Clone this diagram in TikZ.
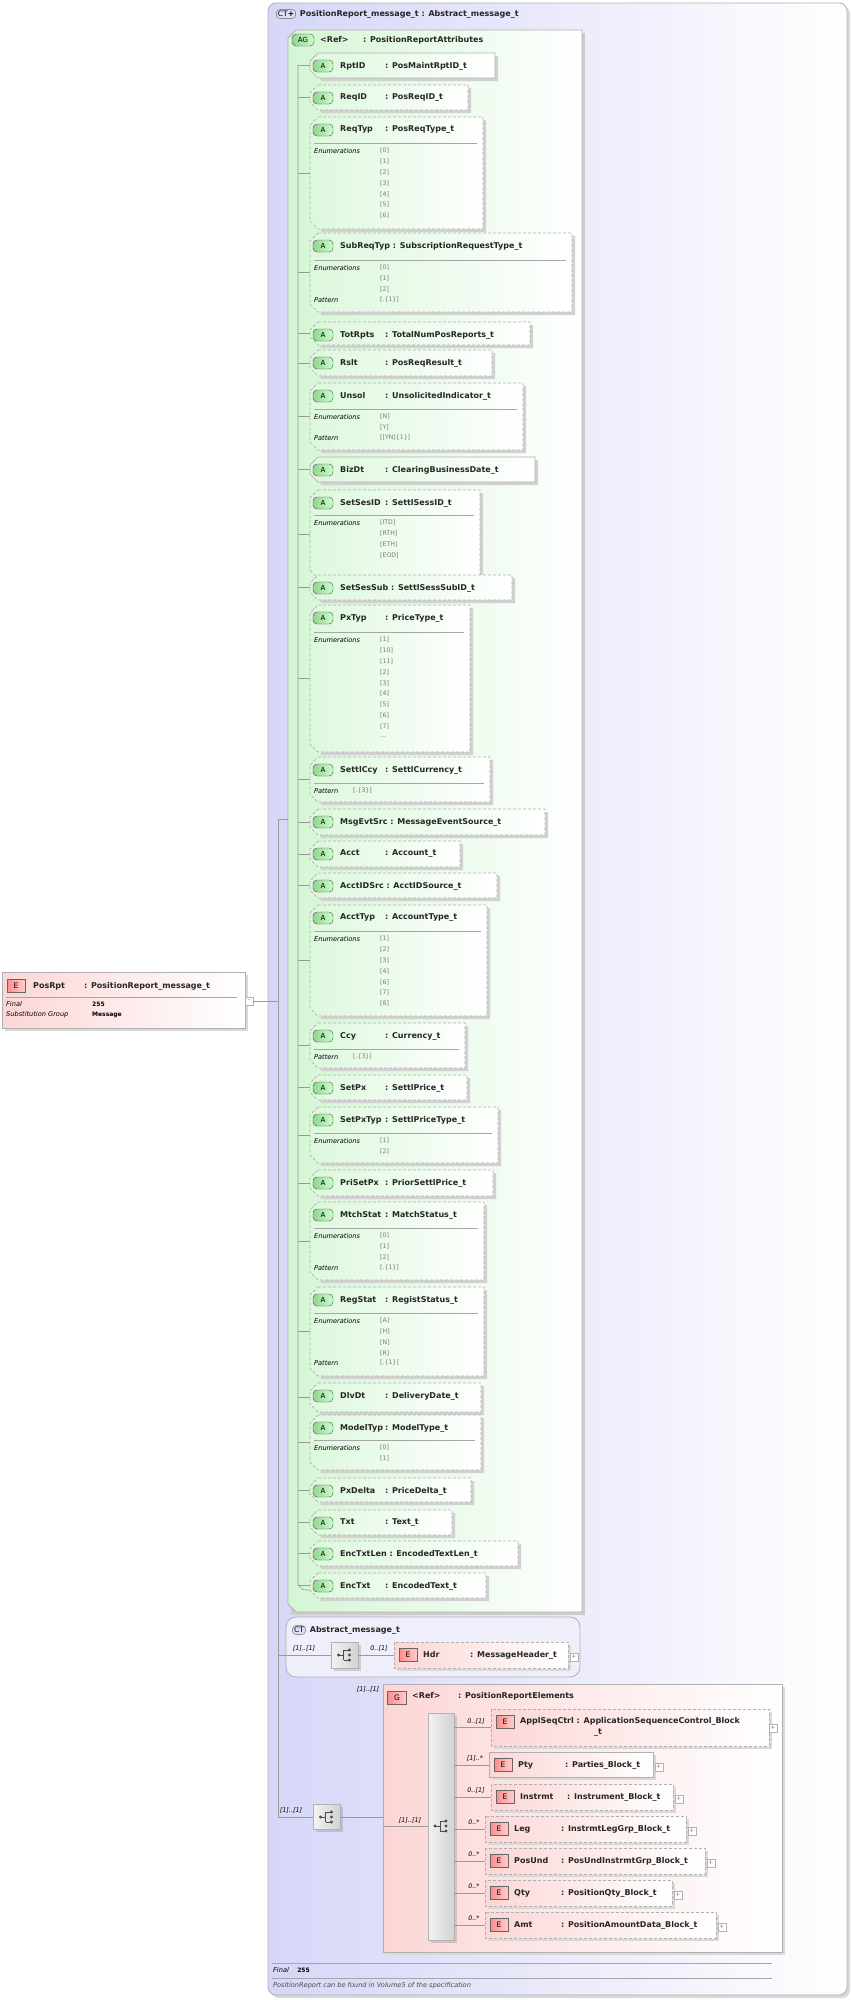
\documentclass[tikz,border=0pt]{standalone}
\usepackage{fontspec}
\setmainfont{DejaVu Sans}
\usetikzlibrary{positioning,shadows}
\definecolor{ctblue}{RGB}{214,214,248}
\definecolor{aggreen}{RGB}{212,246,212}
\definecolor{epink}{RGB}{252,214,214}
\definecolor{bordgray}{RGB}{176,176,176}
\definecolor{valgray}{RGB}{120,120,120}
\tikzset{
  tree/.style={draw=gray!80, line width=0.6pt},
  attrbox/.style={draw=bordgray, line width=0.7pt, left color=aggreen!80, right color=white},
  opt/.style={dashed, dash pattern=on 3pt off 2pt},
  req/.style={solid},
  abadge/.style={draw=black!70, rounded corners=4pt, left color=green!45!gray!60, right color=green!20,
    minimum width=20pt, minimum height=12pt, inner sep=0pt, font=\fontsize{7}{7}\selectfont},
  ebadge/.style={draw=black!60, left color=red!45, right color=red!20,
    minimum width=18pt, minimum height=13pt, inner sep=0pt, font=\fontsize{7.5}{7.5}\selectfont},
  atext/.style={anchor=west, inner sep=0pt, font=\fontsize{8}{9}\selectfont\bfseries, text=black!85},
  dlabel/.style={anchor=west, inner sep=0pt, font=\fontsize{6.6}{7}\selectfont\itshape},
  dval/.style={anchor=west, inner sep=0pt, font=\fontsize{6.2}{7}\selectfont, text=valgray},
  mult/.style={inner sep=0pt, font=\fontsize{6.4}{7}\selectfont\itshape},
  sepl/.style={draw=gray!70, line width=0.5pt},
  plusbox/.style={draw=gray!60, fill=white, minimum size=8pt, inner sep=0pt, font=\fontsize{6}{6}\selectfont, text=gray},
  seqbox/.style={draw=gray!60, left color=gray!10, right color=gray!35, drop shadow={opacity=0.3}},
}
% fixed name column
\newcommand\nm[1]{\setbox0\hbox{#1}\ifdim\wd0<43pt \hbox to 45pt{\box0\hfil}\else\box0\ \fi}
% attribute: top, bottom, right, name, type, style, key
\newcommand\attr[7]{%
  \fill[black!18] (313,{#1+3}) -- (#3+3,{#1+3}) -- (#3+3,{#2+3}) -- (321,{#2+3}) -- cycle;
  \draw[attrbox,#6] (318,#1) -- (#3,#1) -- (#3,#2) -- (318,#2) -- (310,{#2-8}) -- (310,{#1+8}) -- cycle;
  \node[abadge] (#7-b) at (323,{#1+13}) {A};
  \node[atext] (#7) at (340,{#1+13}) {\nm{#4}: #5};
  \coordinate (#7-t) at (298,{(#1+#2)/2});
  \draw[tree] (#7-t) -- (310,{(#1+#2)/2});
}
% enumerations: separator y, right, values
\newcommand\enums[3]{%
  \draw[sepl] (314,#1) -- ({#2-6},#1);
  \node[dlabel] at (314,{#1+8}) {Enumerations};
  \foreach \v [count=\i from 0] in {#3} \node[dval] at (380,{#1+8+10.8*\i}) {[\v]};
}
\newcommand\pat[3]{\node[dlabel] at (314,#1) {Pattern}; \node[dval] at (#2,#1) {#3};}
% element box: left, top, right, bottom, style, name, type, key
\newcommand\elem[8]{%
  \fill[black!15] ({#1+3},{#2+3}) rectangle ({#3+3},{#4+3});
  \draw[draw=bordgray, line width=0.7pt, left color=epink, right color=white, #5] (#1,#2) rectangle (#3,#4);
  \node[ebadge] (#8-b) at ({#1+14},{#2+13}) {E};
  \node[atext] (#8) at ({#1+29},{#2+13}) {\hbox to 47pt{#6\hfil}: #7};
  \node[plusbox] (#8-p) at ({#3+6},{#2+15}) {+};
}
\newcommand\seqicon[2]{%
  \fill[black!70] ({#1-6},#2) circle (1.6pt);
  \draw[black!70, line width=0.8pt] ({#1-6},#2) -- ({#1-1},#2) ({#1-1},{#2-5}) -- ({#1-1},{#2+5})
    ({#1-1},{#2-5}) -- ({#1+4},{#2-5}) ({#1-1},{#2+5}) -- ({#1+4},{#2+5});
  \foreach \d in {-5,0,5} \fill[black!70] ({#1+5},{#2+\d}) circle (1.6pt);
}

\begin{document}
\begin{tikzpicture}[x=1pt,y=-1pt]
\useasboundingbox (0,0) rectangle (851,2000);
%outer complex type
\fill[black!15] (271,6) [rounded corners=8pt] rectangle (850,1998);
\draw[draw=bordgray, line width=0.8pt, left color=ctblue, right color=white, rounded corners=8pt] (268,3) rectangle (847,1995);
\node[draw=black!60, rounded corners=3pt, fill=ctblue!80, inner sep=1.5pt, font=\fontsize{7.5}{8}\selectfont] (ctp) at (286,14) {CT\textbf{+}};
\node[atext, right=4pt of ctp] (cttitle) {PositionReport\_message\_t : Abstract\_message\_t};
%attribute group
\fill[black!20] (291,33) rectangle (585,1615);
\draw[draw=bordgray, line width=0.8pt, left color=aggreen, right color=white] (296,30) -- (582,30) -- (582,1612) -- (296,1612) -- (288,1604) -- (288,38) -- cycle;
\node[abadge, minimum width=22pt] (agb) at (303,40) {AG};
\node[atext] (agtitle) at (320,40) {\hbox to 43pt{<Ref>\hfil}: PositionReportAttributes};
\draw[tree] (298,65) -- (298,1582) to[out=-90,in=180] (306,1590) -- (310,1590);
%attributes
\attr{53}{78}{495}{RptID}{PosMaintRptID\_t}{req}{rptid}
\attr{85}{110}{468}{ReqID}{PosReqID\_t}{opt}{reqid}
\attr{117}{229}{483}{ReqTyp}{PosReqType\_t}{opt}{reqtyp}
\enums{143}{483}{0,1,2,3,4,5,6}
\attr{233}{312}{572}{SubReqTyp}{SubscriptionRequestType\_t}{opt}{subreqtyp}
\enums{260}{572}{0,1,2}
\pat{300}{380}{[.\{1\}]}
\attr{322}{345}{530}{TotRpts}{TotalNumPosReports\_t}{opt}{totrpts}
\attr{350}{376}{492}{Rslt}{PosReqResult\_t}{opt}{rslt}
\attr{383}{450}{523}{Unsol}{UnsolicitedIndicator\_t}{opt}{unsol}
\enums{409}{523}{N,Y}
\pat{438}{380}{[[YN]\{1\}]}
\attr{457}{482}{535}{BizDt}{ClearingBusinessDate\_t}{req}{bizdt}
\attr{490}{578}{480}{SetSesID}{SettlSessID\_t}{opt}{setsesid}
\enums{515}{480}{ITD,RTH,ETH,EOD}
\attr{575}{600}{512}{SetSesSub}{SettlSessSubID\_t}{opt}{setsessub}
\attr{605}{752}{470}{PxTyp}{PriceType\_t}{opt}{pxtyp}
\enums{632}{470}{1,10,11,2,3,4,5,6,7}
\node[dval] (pxmore) at (380,737) {...};
\attr{757}{802}{490}{SettlCcy}{SettlCurrency\_t}{opt}{settlccy}
\draw[sepl] (314,783) -- (484,783);
\pat{791}{353}{[.\{3\}]}
\attr{809}{835}{545}{MsgEvtSrc}{MessageEventSource\_t}{opt}{msgevtsrc}
\attr{841}{867}{460}{Acct}{Account\_t}{opt}{acct}
\attr{873}{898}{497}{AcctIDSrc}{AcctIDSource\_t}{opt}{acctidsrc}
\attr{905}{1016}{487}{AcctTyp}{AccountType\_t}{opt}{accttyp}
\enums{931}{487}{1,2,3,4,6,7,8}
\attr{1023}{1068}{465}{Ccy}{Currency\_t}{opt}{ccy}
\draw[sepl] (314,1049) -- (459,1049);
\pat{1057}{353}{[.\{3\}]}
\attr{1075}{1100}{467}{SetPx}{SettlPrice\_t}{opt}{setpx}
\attr{1107}{1163}{498}{SetPxTyp}{SettlPriceType\_t}{opt}{setpxtyp}
\enums{1133}{498}{1,2}
\attr{1170}{1196}{493}{PriSetPx}{PriorSettlPrice\_t}{opt}{prisetpx}
\attr{1202}{1280}{484}{MtchStat}{MatchStatus\_t}{opt}{mtchstat}
\enums{1228}{484}{0,1,2}
\pat{1268}{380}{[.\{1\}]}
\attr{1287}{1376}{484}{RegStat}{RegistStatus\_t}{opt}{regstat}
\enums{1313}{484}{A,H,N,R}
\pat{1363}{380}{[.\{1\}]}
\attr{1383}{1412}{481}{DlvDt}{DeliveryDate\_t}{opt}{dlvdt}
\attr{1415}{1470}{481}{ModelTyp}{ModelType\_t}{opt}{modeltyp}
\enums{1440}{481}{0,1}
\attr{1478}{1502}{471}{PxDelta}{PriceDelta\_t}{opt}{pxdelta}
\attr{1510}{1535}{452}{Txt}{Text\_t}{opt}{txt}
\attr{1541}{1566}{518}{EncTxtLen}{EncodedTextLen\_t}{opt}{enctxtlen}
\attr{1573}{1598}{486}{EncTxt}{EncodedText\_t}{opt}{enctxt}
%global element
\fill[black!15] (5,975) rectangle (248,1031);
\draw[draw=bordgray, line width=0.7pt, left color=epink, right color=white] (2,972) rectangle (245,1028);
\node[ebadge] (posrpt-b) at (16,986) {E};
\node[atext] (posrpt) at (33,986) {\hbox to 51pt{PosRpt\hfil}: PositionReport\_message\_t};
\draw[sepl] (6,997) -- (237,997);
\node[dlabel] (finlbl) at (6,1004) {Final};
\node[dval, text=black, font=\fontsize{6}{6}\selectfont\bfseries] at (92,1004) {255};
\node[dlabel] (subgrp) at (6,1015) {Substitution Group};
\node[dval, text=black, font=\fontsize{6}{6}\selectfont\bfseries] at (92,1015) {Message};
\node[plusbox] (posrpt-m) at (249,1001) {--};
%content tree
\coordinate (trunk) at (278,1001);
\draw[tree] (posrpt-m.east) -- (trunk);
\draw[tree] (278,819) -- (278,1817);
\draw[tree] (278,819) -- (288,819);
%abstract message
\draw[draw=bordgray, line width=0.8pt, fill=white!60!ctblue, rounded corners=10pt] (286,1617) rectangle (580,1677);
\node[draw=black!60, rounded corners=3pt, fill=ctblue!80, inner sep=1.5pt, font=\fontsize{7.5}{8}\selectfont] (ctb) at (299,1630) {CT};
\node[atext, right=4pt of ctb] (abstitle) {Abstract\_message\_t};
\node[seqbox, minimum width=27pt, minimum height=26pt, inner sep=0pt] (seqhdr) at (344.5,1655) {};
\seqicon{344.5}{1655}
\draw[tree] (278,1655) -- (seqhdr.west);
\node[mult] at (304,1648) {[1]..[1]};
\elem{394}{1642}{568}{1668}{opt}{Hdr}{MessageHeader\_t}{hdr}
\draw[tree] (seqhdr.east) -- (394,1655);
\node[mult] at (379,1648) {0..[1]};
%element group
\fill[black!15] (386,1687) rectangle (785,1955);
\draw[draw=bordgray, line width=0.8pt, left color=epink, right color=white] (383,1684) rectangle (782,1952);
\node[mult] at (368,1689) {[1]..[1]};
\node[ebadge, minimum width=19pt] (gb) at (397,1698) {G};
\node[atext] (gtitle) at (412,1696) {\hbox to 46pt{<Ref>\hfil}: PositionReportElements};
\node[seqbox, minimum width=27pt, minimum height=25pt, inner sep=0pt] (seqmain) at (326.5,1817) {};
\seqicon{326.5}{1817}
\draw[tree] (278,1817) -- (seqmain.west);
\node[mult] at (291,1810) {[1]..[1]};
\draw[tree] (seqmain.east) -- (383,1817);
\draw[tree] (383,1826) -- (428,1826);
\node[mult] at (410,1820) {[1]..[1]};
\node[seqbox, minimum width=26pt, minimum height=227pt, inner sep=0pt] (seqbar) at (441,1826.5) {};
\seqicon{441}{1826}
%children
\fill[black!15] (494,1712) rectangle (772,1749);
\draw[draw=bordgray, line width=0.7pt, left color=epink, right color=white, opt] (491,1709) rectangle (769,1746);
\node[ebadge] (applseqctrl-b) at (505,1722) {E};
\node[atext] (applseqctrl) at (520,1721) {ApplSeqCtrl : ApplicationSequenceControl\_Block};
\node[atext] (applseqctrl-t) at (594,1733) {\_t};
\node[plusbox] (applseqctrl-p) at (773,1728) {+};
\draw[tree] (454,1727) -- (491,1727);
\node[mult] at (476,1721) {0..[1]};
\elem{489}{1752}{653}{1777}{req}{Pty}{Parties\_Block\_t}{pty}
\draw[tree] (454,1765) -- (489,1765);
\node[mult] at (475,1758) {[1]..*};
\elem{491}{1784}{673}{1810}{opt}{Instrmt}{Instrument\_Block\_t}{instrmt}
\draw[tree] (454,1797) -- (491,1797);
\node[mult] at (476,1790) {0..[1]};
\elem{485}{1816}{686}{1842}{opt}{Leg}{InstrmtLegGrp\_Block\_t}{leg}
\draw[tree] (454,1829) -- (485,1829);
\node[mult] at (474,1822) {0..*};
\elem{485}{1848}{705}{1874}{opt}{PosUnd}{PosUndInstrmtGrp\_Block\_t}{posund}
\draw[tree] (454,1861) -- (485,1861);
\node[mult] at (474,1854) {0..*};
\elem{485}{1880}{672}{1906}{opt}{Qty}{PositionQty\_Block\_t}{qty}
\draw[tree] (454,1893) -- (485,1893);
\node[mult] at (474,1886) {0..*};
\elem{485}{1912}{716}{1938}{opt}{Amt}{PositionAmountData\_Block\_t}{amt}
\draw[tree] (454,1925) -- (485,1925);
\node[mult] at (474,1918) {0..*};
%footer
\draw[sepl] (272,1963) -- (772,1963);
\node[dlabel] (ffinal) at (273,1970) {Final};
\node[dval, text=black, font=\fontsize{6}{6}\selectfont\bfseries, right=8pt of ffinal] {255};
\draw[sepl] (272,1978) -- (772,1978);
\node[dlabel, text=black!70] (fnote) at (273,1986) {PositionReport can be found in Volume5 of the specification};
\end{tikzpicture}
\end{document}
